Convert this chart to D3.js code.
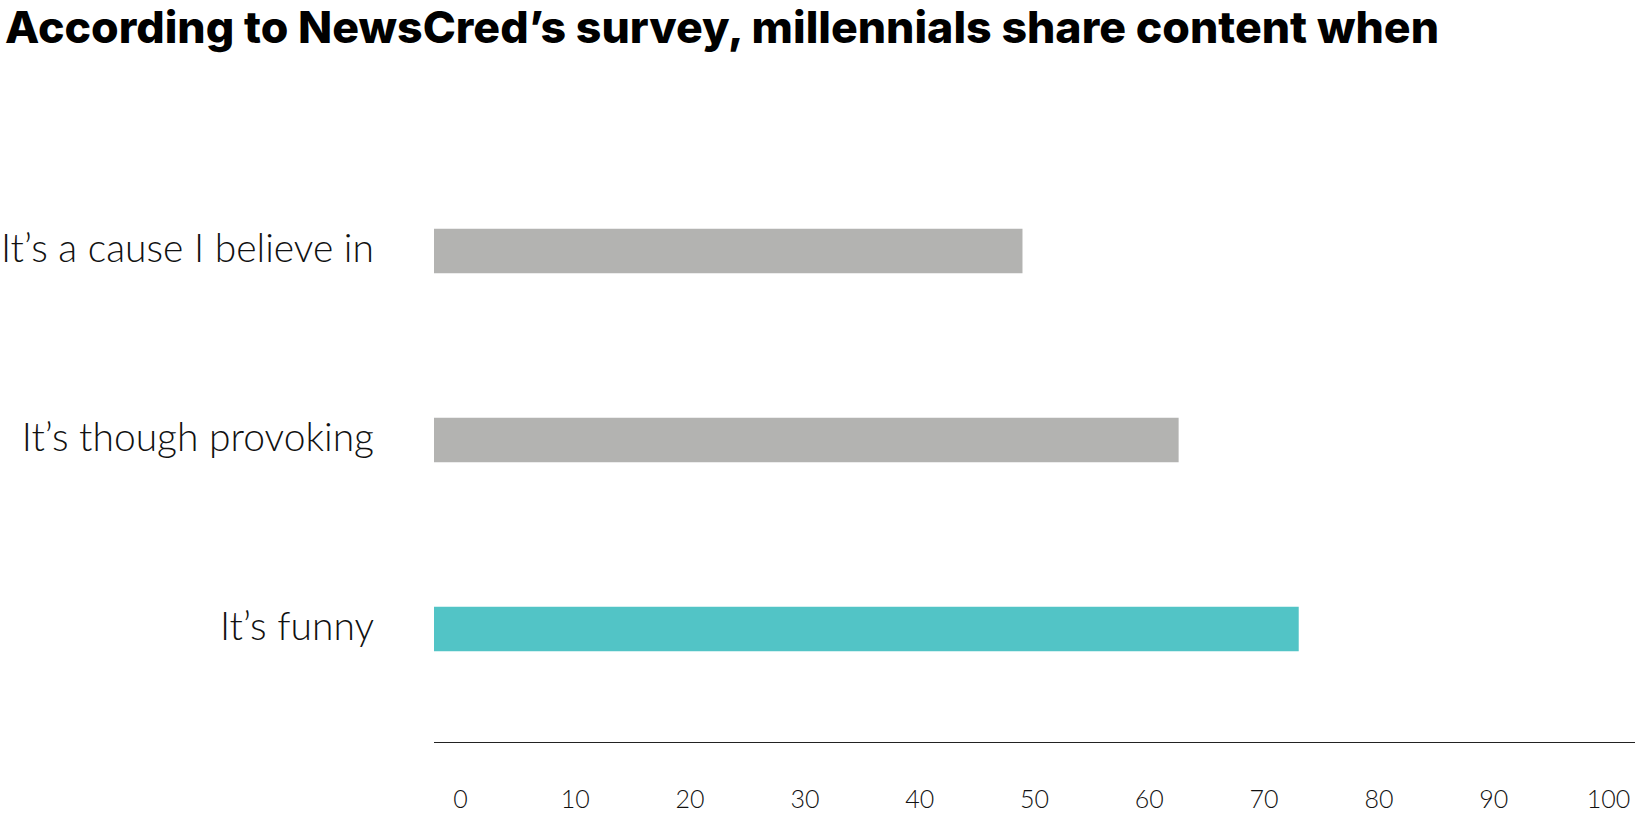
<!DOCTYPE html>
<html>
<head>
<meta charset="utf-8">
<script src="https://cdn.jsdelivr.net/npm/d3@7"></script>
<style>
  html, body { margin: 0; padding: 0; background: #fff; }
  svg { display: block; }
</style>
</head>
<body>
<svg id="chart" width="1640" height="820"></svg>
<script>
  // data
  const categories = ["It\u2019s a cause I believe in", "It\u2019s though provoking", "It\u2019s funny"]
  const values = [49, 62, 72]
  const barColors = ["#b3b3b1", "#b3b3b1", "#52c4c6"]
  const tickValues = [0, 10, 20, 30, 40, 50, 60, 70, 80, 90, 100]
  const title = "According to NewsCred\u2019s survey, millennials share content when"

  const svg = d3.select("#chart")

  const xScale = d3.scaleLinear().domain([0, 100]).range([434, 1635])
  // tick labels sit on their own, slightly narrower, spacing
  const tickScale = d3.scaleLinear().domain([0, 100]).range([460, 1608])
  const yScale = d3.scaleBand()
    .domain(categories)
    .range([156.5, 723.5])
    .paddingInner(0.7646)
    .paddingOuter(0.3823)

  svg.append("text")
    .attr("x", 5)
    .attr("y", 43)
    .attr("font-family", "Inter, sans-serif")
    .attr("font-weight", 800)
    .attr("font-size", 44)
    .attr("textLength", 1434)
    .attr("lengthAdjust", "spacingAndGlyphs")
    .attr("fill", "#000")
    .text(title)

  // bars
  svg.append("g")
    .selectAll("rect")
    .data(values)
    .enter()
    .append("rect")
    .attr("x", xScale(0))
    .attr("y", (d, i) => yScale(categories[i]))
    .attr("width", d => xScale(d) - xScale(0))
    .attr("height", yScale.bandwidth())
    .attr("fill", (d, i) => barColors[i])

  // category labels
  svg.append("g")
    .selectAll("text")
    .data(categories)
    .enter()
    .append("text")
    .attr("x", 374)
    .attr("y", d => yScale(d) + yScale.bandwidth() / 2 + 11)
    .attr("text-anchor", "end")
    .attr("font-family", "Lato, sans-serif")
    .attr("font-weight", 300)
    .attr("font-size", 39)
    .attr("fill", "#111")
    .text(d => d)

  // baseline
  svg.append("line")
    .attr("x1", xScale(0))
    .attr("x2", xScale(100))
    .attr("y1", 742.5)
    .attr("y2", 742.5)
    .attr("stroke", "#222")
    .attr("stroke-width", 1.2)

  // tick labels
  const axis = d3.axisBottom(tickScale)
    .tickValues(tickValues)
    .tickSize(0)
    .tickPadding(0)
    .tickFormat(d3.format("d"))

  const axisG = svg.append("g")
    .attr("transform", "translate(0, 808)")
    .call(axis)
  axisG.select(".domain").remove()
  axisG.selectAll("text")
    .attr("dy", 0)
    .attr("font-family", "Lato, sans-serif")
    .attr("font-weight", 300)
    .attr("font-size", 25)
    .attr("fill", "#111")
</script>
</body>
</html>
